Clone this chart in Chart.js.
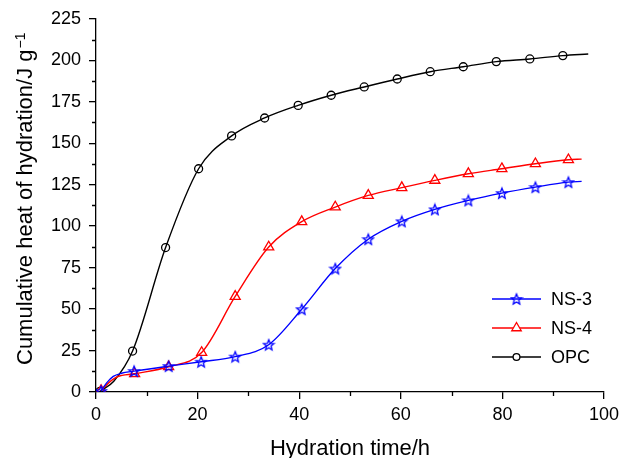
<!DOCTYPE html>
<html>
<head>
<meta charset="utf-8">
<script src="https://cdn.jsdelivr.net/npm/chart.js@4.4.1/dist/chart.umd.min.js"></script>
<style>
    body { margin: 0; background: #fff; }
    #wrap { width: 624px; height: 458px; }
</style>
</head>
<body>
<div id="wrap"><canvas id="heatChart" width="624" height="458"></canvas></div>
<script>
// marker points (time in h, heat in J/g)
const ns3Time = [1.0, 7.5, 14.3, 20.7, 27.4, 34.0, 40.5, 47.1, 53.6, 60.2, 66.7, 73.3, 79.9, 86.5, 93.0];
const ns3Heat = [0.6, 12.6, 15.6, 18.2, 21.3, 28.5, 49.9, 74.4, 92.1, 102.9, 110.1, 115.5, 119.9, 123.5, 126.5];
const ns4Time = [1.0, 7.6, 14.3, 20.8, 27.4, 34.0, 40.5, 47.1, 53.6, 60.2, 66.7, 73.3, 79.9, 86.5, 93.0];
const ns4Heat = [0.8, 11.0, 15.2, 23.8, 57.6, 87.4, 102.7, 111.5, 118.5, 123.2, 127.6, 131.6, 134.6, 137.6, 140.0];
const opcTime = [0.8, 7.2, 13.7, 20.2, 26.7, 33.2, 39.8, 46.3, 52.8, 59.3, 65.8, 72.3, 78.8, 85.4, 91.9];
const opcHeat = [0.4, 24.7, 87.1, 134.6, 154.4, 165.2, 172.8, 178.9, 183.9, 188.7, 193.1, 196.1, 199.2, 200.8, 202.8];

// points on the curves without a marker (early rise and line ends)
const ns3CurveTime = [2.1, 3.4, 5.0, 95.6];
const ns3CurveHeat = [5.5, 9.4, 11.3, 127.0];
const ns4CurveTime = [2.6, 4.2, 95.6];
const ns4CurveHeat = [5.8, 9.2, 140.4];
const opcCurveTime = [3.5, 96.9];
const opcCurveHeat = [6.5, 203.8];

const seriesNames = ['NS-3', 'NS-4', 'OPC'];
const xTicks = [0, 20, 40, 60, 80, 100];
const yTicks = [0, 25, 50, 75, 100, 125, 150, 175, 200, 225];

function makePoints(t, h, ct, ch) {
    const pts = t.map((x, i) => ({ x: x, y: h[i], m: true }));
    ct.forEach((x, i) => pts.push({ x: x, y: ch[i], m: false }));
    return pts.sort((a, b) => a.x - b.x);
}

// outlined five point star, chart.js has none
function makeStar(color) {
    const c = document.createElement('canvas');
    c.width = 14; c.height = 14;
    const g = c.getContext('2d');
    g.strokeStyle = color;
    g.lineWidth = 1.3;
    g.beginPath();
    for (let i = 0; i < 10; i++) {
        const r = i % 2 === 0 ? 5.5 : 2.4;
        const a = -Math.PI / 2 + i * Math.PI / 5;
        const px = 7 + r * Math.cos(a), py = 7.5 + r * Math.sin(a);
        if (i === 0) g.moveTo(px, py); else g.lineTo(px, py);
    }
    g.closePath();
    g.stroke();
    return c;
}

const starImg = makeStar('#0000ff');
const FONT = "'Liberation Sans', Arial, Helvetica, sans-serif";
Chart.defaults.font.family = FONT;
Chart.defaults.color = '#000';

function markerRadius(r) {
    return ctx => (ctx.raw && ctx.raw.m ? r : 0);
}

const decorPlugin = {
    id: 'decor',
    afterDraw(chart) {
        const ctx = chart.ctx;
        const xs = chart.scales.x, ys = chart.scales.y;
        ctx.save();
        ctx.strokeStyle = '#000';
        ctx.lineWidth = 1.3;
        ctx.beginPath();
        // minor ticks
        for (let v = 10; v < 100; v += 20) {
            const px = Math.round(xs.getPixelForValue(v)) + 0.5;
            ctx.moveTo(px, xs.top);
            ctx.lineTo(px, xs.top + 4);
        }
        for (let v = 12.5; v < 225; v += 25) {
            const py = Math.round(ys.getPixelForValue(v)) + 0.5;
            ctx.moveTo(ys.right - 4, py);
            ctx.lineTo(ys.right, py);
        }
        ctx.stroke();

        // axis titles
        ctx.fillStyle = '#000';
        ctx.font = '22px ' + FONT;
        ctx.textAlign = 'center';
        ctx.textBaseline = 'alphabetic';
        ctx.fillText('Hydration time/h', (chart.chartArea.left + chart.chartArea.right) / 2, 455);

        ctx.save();
        ctx.translate(31.5, 365);
        ctx.rotate(-Math.PI / 2);
        ctx.textAlign = 'left';
        const main = 'Cumulative heat of hydration/J g';
        ctx.fillText(main, 0, 0);
        const w = ctx.measureText(main).width;
        ctx.font = '14px ' + FONT;
        ctx.fillText('\u22121', w + 1, -7);
        ctx.restore();

        // legend: short line with the marker in its middle
        const rows = [299, 328, 357];
        chart.data.datasets.forEach((ds, i) => {
            const y = rows[i];
            ctx.strokeStyle = ds.borderColor;
            ctx.lineWidth = 1.4;
            ctx.beginPath();
            ctx.moveTo(492, y);
            ctx.lineTo(541, y);
            ctx.stroke();
            ctx.fillStyle = '#fff';
            ctx.strokeStyle = ds.borderColor;
            ctx.lineWidth = 1.3;
            if (ds.pointStyle === 'circle') {
                ctx.beginPath();
                ctx.arc(516.5, y, 3.4, 0, Math.PI * 2);
                ctx.fill();
                ctx.stroke();
            } else {
                Chart.helpers.drawPoint(ctx, { pointStyle: ds.pointStyle, radius: 5.5, rotation: 0 }, 516.5, y);
                if (ds.pointStyle === 'triangle') { ctx.fill(); ctx.stroke(); }
            }
            ctx.fillStyle = '#000';
            ctx.font = '18px ' + FONT;
            ctx.textAlign = 'left';
            ctx.textBaseline = 'middle';
            ctx.fillText(ds.label, 551, y + 1);
        });
        ctx.restore();
    }
};

const lineBase = {
    borderWidth: 1.4,
    cubicInterpolationMode: 'monotone',
    pointBorderWidth: 1.3,
    pointBackgroundColor: 'rgba(255,255,255,0)'
};

new Chart(document.getElementById('heatChart').getContext('2d'), {
    type: 'line',
    data: {
        datasets: [
            Object.assign({}, lineBase, {
                label: seriesNames[0],
                data: makePoints(ns3Time, ns3Heat, ns3CurveTime, ns3CurveHeat),
                borderColor: '#0000ff',
                pointBorderColor: '#0000ff',
                pointStyle: starImg,
                pointRadius: markerRadius(5)
            }),
            Object.assign({}, lineBase, {
                label: seriesNames[1],
                data: makePoints(ns4Time, ns4Heat, ns4CurveTime, ns4CurveHeat),
                borderColor: '#ff0000',
                pointBorderColor: '#ff0000',
                pointStyle: 'triangle',
                pointRadius: markerRadius(5.8)
            }),
            Object.assign({}, lineBase, {
                label: seriesNames[2],
                data: makePoints(opcTime, opcHeat, opcCurveTime, opcCurveHeat),
                borderColor: '#000000',
                pointBorderColor: '#000000',
                pointStyle: 'circle',
                pointRadius: markerRadius(4)
            })
        ]
    },
    options: {
        responsive: false,
        animation: false,
        events: [],
        layout: { padding: { top: 18, right: 15, left: 0, bottom: 0 } },
        plugins: {
            legend: { display: false },
            tooltip: { enabled: false }
        },
        scales: {
            x: {
                type: 'linear',
                min: 0,
                max: 100,
                afterFit: s => { s.height = 66; },
                afterBuildTicks: s => { s.ticks = xTicks.map(v => ({ value: v })); },
                ticks: { font: { size: 18 }, color: '#000', padding: 5, maxRotation: 0 },
                grid: { drawOnChartArea: false, drawTicks: true, tickLength: 7, color: '#000', lineWidth: 1.3 },
                border: { color: '#000', width: 1.3 }
            },
            y: {
                min: 0,
                max: 225,
                afterFit: s => { s.width = 96; },
                afterBuildTicks: s => { s.ticks = yTicks.map(v => ({ value: v })); },
                ticks: { font: { size: 18 }, color: '#000', padding: 8 },
                grid: { drawOnChartArea: false, drawTicks: true, tickLength: 7, color: '#000', lineWidth: 1.3 },
                border: { color: '#000', width: 1.3 }
            }
        }
    },
    plugins: [decorPlugin]
});
</script>
</body>
</html>
